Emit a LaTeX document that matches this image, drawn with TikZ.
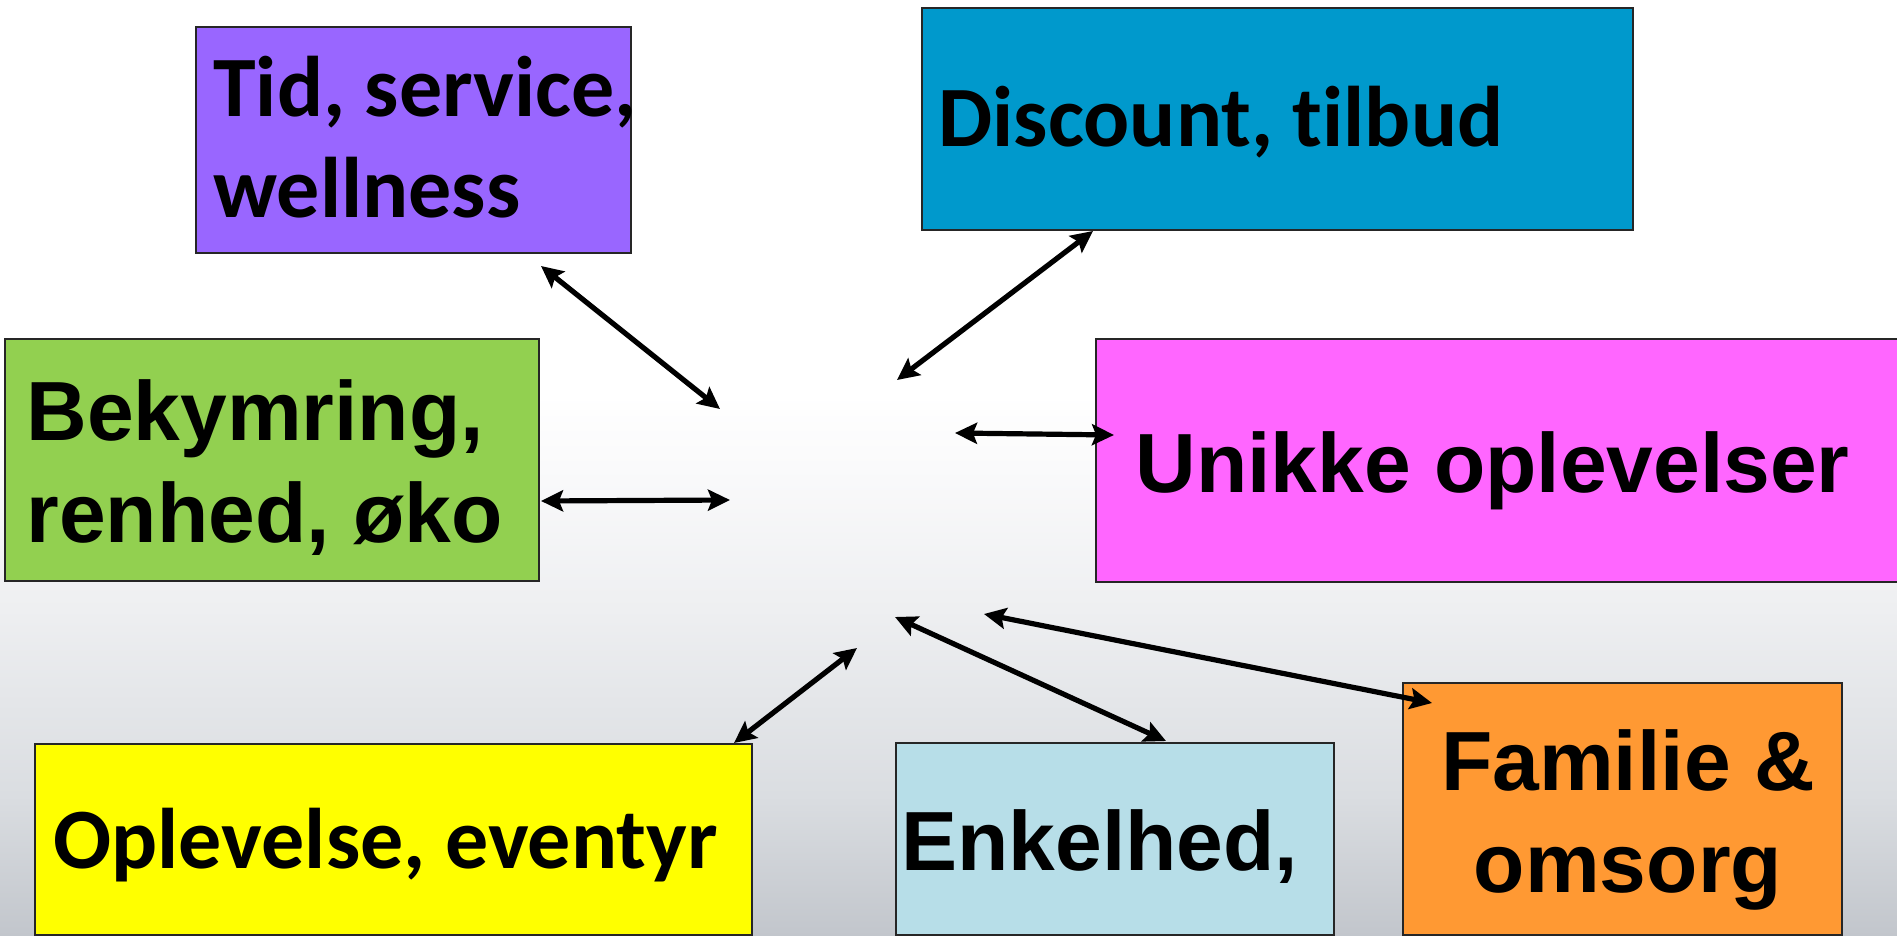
\documentclass[tikz,border=0pt]{standalone}
\usepackage{fontspec}
\setmainfont{Liberation Sans}
\newfontfamily\calfont{Carlito}[Ligatures=NoCommon]
\usetikzlibrary{arrows.meta,calc}

% box fills
\definecolor{tidc}{HTML}{9966FF}
\definecolor{discc}{HTML}{0099CC}
\definecolor{bekc}{HTML}{92D050}
\definecolor{unic}{HTML}{FF66FF}
\definecolor{oplc}{HTML}{FFFF00}
\definecolor{enkc}{HTML}{B7DEE8}
\definecolor{famc}{HTML}{FF9933}
% backdrop tones
\definecolor{bgA}{HTML}{C2C6CC}
\definecolor{bgB}{HTML}{DADDE1}
\definecolor{bgC}{HTML}{EEEFF1}
\definecolor{bgD}{HTML}{FAFAFB}

\pgfdeclareverticalshading{backdrop}{100bp}{%
  color(0bp)=(bgA); color(25bp)=(bgA); color(32.5bp)=(bgB);
  color(42.5bp)=(bgC); color(50bp)=(bgD); color(54bp)=(white);
  color(100bp)=(white)}

\tikzset{
  box/.style={draw=black!85, line width=1pt, inner sep=0pt, anchor=north west},
  calt/.style={inner sep=0pt, font=\calfont\bfseries\fontsize{43pt}{50.5pt}\selectfont},
  arit/.style={inner sep=0pt, font=\bfseries\fontsize{42pt}{51pt}\selectfont},
  link/.style={line width=2.6pt,
    {Stealth[length=11pt,width=10.5pt,inset=2pt]}-{Stealth[length=11pt,width=10.5pt,inset=2pt]}}
}

\begin{document}
\begin{tikzpicture}[x=0.5pt,y=-0.5pt]
  \clip (0,0) rectangle (1897,936);
  \useasboundingbox (0,0) rectangle (1897,936);
  \shade[shading=backdrop] (0,0) rectangle (1897,936);

  % boxes
  \node[box, fill=tidc,  minimum width=217.5pt, minimum height=113pt]   (tid)  at (195,26)  {};
  \node[box, fill=discc, minimum width=355.5pt, minimum height=111pt]   (disc) at (921,7)   {};
  \node[box, fill=bekc,  minimum width=267pt,   minimum height=121pt]   (bek)  at (4,338)   {};
  \node[box, fill=unic,  minimum width=410pt,   minimum height=121.5pt] (uni)  at (1095,338){};
  \node[box, fill=oplc,  minimum width=358.5pt, minimum height=95.5pt]  (opl)  at (34,743)  {};
  \node[box, fill=enkc,  minimum width=219pt,   minimum height=96pt]    (enk)  at (895,742) {};
  \node[box, fill=famc,  minimum width=219.5pt, minimum height=126pt]   (fam)  at (1402,682){};

  % labels (multi-line labels are placed by the baseline of their last line)
  \node[calt, anchor=base west, align=left] (tidtxt) at (213,218) {Tid, service,\\wellness};
  \node[calt, anchor=base west] (disctxt) at (938,147) {Discount, tilbud};
  \node[arit, anchor=base west, align=left] (bektxt) at (26,542) {Bekymring,\\renhed, øko};
  \node[arit, anchor=base west] (unitxt) at (1135,492) {Unikke oplevelser};
  \node[calt, anchor=base west] (opltxt) at (53,868) {Oplevelse, eventyr};
  \node[arit, anchor=base west] (enktxt) at (901,870) {Enkelhed,};
  \node[arit, anchor=base, align=center] (famtxt) at (1628,892) {Familie \&\\omsorg};

  % free ends near the middle
  \coordinate (mtid)  at (720,409);
  \coordinate (mdisc) at (897,380);
  \coordinate (muni)  at (955,433);
  \coordinate (mbek)  at (730,500);
  \coordinate (mopl)  at (857,648);
  \coordinate (menk)  at (895,617);
  \coordinate (mfam)  at (984,614);

  % connectors
  \draw[link] ($(tid.south east)+(-91,12)$) -- (mtid);
  \draw[link] ($(disc.south west)+(172,0)$) -- (mdisc);
  \draw[link] (muni) -- ($(uni.west)+(19,-25.5)$);
  \draw[link] ($(bek.east)+(1,41)$) -- (mbek);
  \draw[link] ($(opl.north east)+(-19,0)$) -- (mopl);
  \draw[link] ($(enk.north)+(51,-1)$) -- (menk);
  \draw[link] ($(fam.north west)+(30,21)$) -- (mfam);
\end{tikzpicture}
\end{document}
